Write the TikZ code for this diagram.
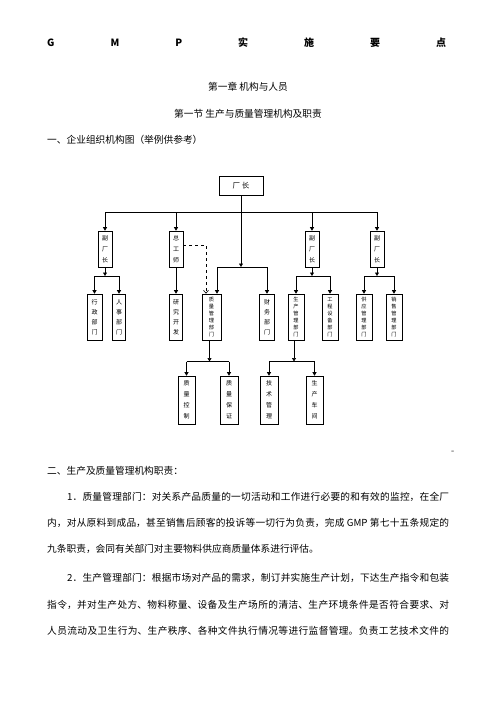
\documentclass[tikz,border=0pt]{standalone}
\usepackage{fontspec}
\newfontfamily\cjk{Noto Sans CJK SC}
\usetikzlibrary{arrows.meta}
\XeTeXlinebreaklocale "zh"
\XeTeXlinebreakskip=0pt plus 2pt

\tikzset{
  unit/.style={draw, line width=.6pt, inner sep=0pt, align=center},
  head/.style={unit, minimum width=44pt, minimum height=19pt, font=\cjk\fontsize{7.5}{9}\selectfont},
  lead/.style={unit, minimum width=14pt, minimum height=36pt, font=\cjk\fontsize{6}{11}\selectfont},
  dept/.style={unit, minimum width=15pt, minimum height=46pt, font=\cjk\fontsize{6}{10}\selectfont},
  deptlong/.style={dept, minimum width=16pt, font=\cjk\fontsize{5.2}{7}\selectfont},
  sect/.style={unit, minimum width=18pt, minimum height=48pt, font=\cjk\fontsize{6}{11}\selectfont},
  wire/.style={line width=.6pt},
  link/.style={wire, -{Triangle[length=3.5pt,width=4pt]}},
  body/.style={font=\cjk\fontsize{9.7}{12}\selectfont}
}

\begin{document}
\begin{tikzpicture}[x=1pt, y=-1pt]
    \useasboundingbox (0,0) rectangle (496,702);

    % headings
    \node[anchor=base west, inner sep=0pt, font=\cjk\bfseries\fontsize{10}{12}\selectfont] (title) at (47,46)
        {\makebox[399pt]{G\hfill M\hfill P\hfill 实\hfill 施\hfill 要\hfill 点}};
    \node[body] (chapter) at (248,87) {第一章\ 机构与人员};
    \node[body] (section) at (248,114) {第一节\ 生产与质量管理机构及职责};
    \node[body, anchor=west, inner sep=0pt] (partA) at (47,140) {一、企业组织机构图（举例供参考）};

    % chart
    \node[head] (chief) at (241,185.5) {厂\ 长};

    \node[lead] (vpA) at (105,249) {副\\厂\\长};
    \node[lead] (cte) at (176,249) {总\\工\\师};
    \node[lead] (vpB) at (312,249) {副\\厂\\长};
    \node[lead] (vpC) at (377,249) {副\\厂\\长};

    \node[dept] (admin) at (94.5,317) {行\\政\\部\\门};
    \node[dept, minimum width=13pt] (hr) at (119,317) {人\\事\\部\\门};
    \node[dept, minimum width=13pt] (rnd) at (176,317) {研\\究\\开\\发};
    \node[deptlong, minimum width=19pt] (qa) at (211.5,317) {质\\量\\管\\理\\部\\门};
    \node[dept] (fin) at (267,317) {财\\务\\部\\门};
    \node[deptlong] (prod) at (296,317) {生\\产\\管\\理\\部\\门};
    \node[deptlong] (eng) at (330,317) {工\\程\\设\\备\\部\\门};
    \node[deptlong] (supply) at (364,317) {供\\应\\管\\理\\部\\门};
    \node[deptlong] (sales) at (394,317) {销\\售\\管\\理\\部\\门};

    \node[sect, minimum width=17pt] (qc) at (186.5,400) {质\\量\\控\\制};
    \node[sect] (qs) at (229,400) {质\\量\\保\\证};
    \node[sect] (tech) at (269,400) {技\\术\\管\\理};
    \node[sect, minimum width=17pt] (shop) at (314.5,400) {生\\产\\车\\间};

    % junction levels
    \coordinate (bus) at (0,212);
    \coordinate (midbar) at (0,267);
    \coordinate (lowbar) at (0,276);
    \coordinate (basebar) at (0,361.5);

    % chief to leaders
    \draw[wire] (vpA |- bus) -- (vpC |- bus);
    \draw[wire] (chief.south) -- (chief |- bus);
    \draw[link] (chief |- bus) -- (chief |- midbar);
    \draw[link] (vpA |- bus) -- (vpA.north);
    \draw[link] (cte |- bus) -- (cte.north);
    \draw[link] (vpB |- bus) -- (vpB.north);
    \draw[link] (vpC |- bus) -- (vpC.north);

    % chief to quality and finance
    \draw[wire] ([xshift=5.5pt]qa.north |- midbar) -- (fin |- midbar);
    \draw[link] ([xshift=5.5pt]qa.north |- midbar) -- ([xshift=5.5pt]qa.north);
    \draw[link] (fin |- midbar) -- (fin.north);

    % leaders to departments
    \draw[link] (vpA.south) -- (vpA |- lowbar);
    \draw[wire] (admin |- lowbar) -- (hr |- lowbar);
    \draw[link] (admin |- lowbar) -- (admin.north);
    \draw[link] (hr |- lowbar) -- (hr.north);

    \draw[link] (cte.south) -- (rnd.north);
    \draw[wire, dashed, -{Straight Barb[length=3pt,width=5pt]}]
        ([yshift=4pt]cte.east) -| ([xshift=-5.5pt]qa.north);

    \draw[link] (vpB.south) -- (vpB |- lowbar);
    \draw[wire] (prod |- lowbar) -- (eng |- lowbar);
    \draw[link] (prod |- lowbar) -- (prod.north);
    \draw[link] (eng |- lowbar) -- (eng.north);

    \draw[link] (vpC.south) -- (vpC |- lowbar);
    \draw[wire] (supply |- lowbar) -- (sales |- lowbar);
    \draw[link] (supply |- lowbar) -- (supply.north);
    \draw[link] (sales |- lowbar) -- (sales.north);

    % departments to sections
    \draw[link] ([xshift=-2pt]qa.south) -- ([xshift=-2pt]qa.south |- basebar);
    \draw[wire] (qc |- basebar) -- (qs |- basebar);
    \draw[link] (qc |- basebar) -- (qc.north);
    \draw[link] (qs |- basebar) -- (qs.north);

    \draw[link] ([xshift=-2pt]prod.south) -- ([xshift=-2pt]prod.south |- basebar);
    \draw[wire] (tech |- basebar) -- (shop |- basebar);
    \draw[link] (tech |- basebar) -- (tech.north);
    \draw[link] (shop |- basebar) -- (shop.north);

    % duties
    \node[font=\fontsize{9}{10}\selectfont, inner sep=0pt] (mark) at (453,452) {-};
    \node[body, anchor=west, inner sep=0pt] (partB) at (47,471) {二、生产及质量管理机构职责：};
    \node[body, anchor=base west, inner sep=0pt, text width=402pt, align=justify] (dutyA) at (47,500.5)
        {\fontsize{9.7}{26}\selectfont\leavevmode\hspace*{20pt}1．质量管理部门：对关系产品质量的一切活动和工作进行必要的和有效的监控，在全厂\linebreak
        内，对从原料到成品，甚至销售后顾客的投诉等一切行为负责，完成 GMP 第七十五条规定的\linebreak
        九条职责，会同有关部门对主要物料供应商质量体系进行评估。\par};
    \node[body, anchor=base west, inner sep=0pt, text width=402pt, align=justify] (dutyB) at (47,581.5)
        {\fontsize{9.7}{26.5}\selectfont\parfillskip=0pt\leavevmode\hspace*{20pt}2．生产管理部门：根据市场对产品的需求，制订并实施生产计划，下达生产指令和包装\linebreak
        指令，并对生产处方、物料称量、设备及生产场所的清洁、生产环境条件是否符合要求、对\linebreak
        人员流动及卫生行为、生产秩序、各种文件执行情况等进行监督管理。负责工艺技术文件的\par};
\end{tikzpicture}
\end{document}
